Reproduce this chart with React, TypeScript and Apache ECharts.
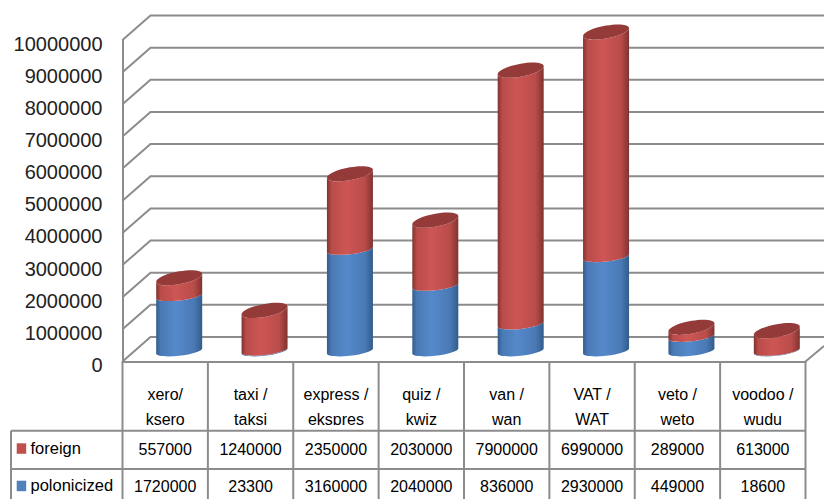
import React, { useEffect, useRef } from "react";
import * as echarts from "echarts";

const categories = ["xero/\nksero", "taxi /\ntaksi", "express /\nekspres", "quiz /\nkwiz", "van /\nwan", "VAT /\nWAT", "veto /\nweto", "voodoo /\nwudu"];
const foreign = [557000, 1240000, 2350000, 2030000, 7900000, 6990000, 289000, 613000];
const polonicized = [1720000, 23300, 3160000, 2040000, 836000, 2930000, 449000, 18600];
const ticks = [0, 1000000, 2000000, 3000000, 4000000, 5000000, 6000000, 7000000, 8000000, 9000000, 10000000];

const GRID_L = 122.5, GRID_R = 805.5, GRID_T = 40, GRID_B = 361.5;
const DEPTH_X = 28, DEPTH_Y = 24.5;
const ROW1 = 430.7, ROW2 = 469, W = 824, H = 499;
const LINE = "#8c8c8c";
const FONT = "'Liberation Sans', sans-serif";

const K = 0.5523;
const RX = 23;
const FLAT = { ry: 4.8, s: 2.5 };
const CAP = { ry: 6.5, s: 4 };
function mapper(cx: number, cy: number, ry: number, s: number) {
  return (u: number, v: number) => `${(cx + u * RX).toFixed(2)} ${(cy + v * ry - u * s).toFixed(2)}`;
}
function bodyPath(cx: number, y0: number, y1: number, top: { ry: number; s: number }) {
  const b = mapper(cx, y0, FLAT.ry, FLAT.s);
  const t = mapper(cx, y1, top.ry, top.s);
  return `M${t(-1, 0)} L${b(-1, 0)} C${b(-1, K)} ${b(-K, 1)} ${b(0, 1)} C${b(K, 1)} ${b(1, K)} ${b(1, 0)} L${t(1, 0)} C${t(1, K)} ${t(K, 1)} ${t(0, 1)} C${t(-K, 1)} ${t(-1, K)} ${t(-1, 0)} Z`;
}
function capPath(cx: number, y: number) {
  const t = mapper(cx, y, CAP.ry, CAP.s);
  return `M${t(-1, 0)} C${t(-1, K)} ${t(-K, 1)} ${t(0, 1)} C${t(K, 1)} ${t(1, K)} ${t(1, 0)} C${t(1, -K)} ${t(K, -1)} ${t(0, -1)} C${t(-K, -1)} ${t(-1, -K)} ${t(-1, 0)} Z`;
}
function shade(edge: string, mid: string, light: string) {
  return {
    type: "linear", x: 0, y: 0, x2: 1, y2: 0,
    colorStops: [
      { offset: 0, color: edge }, { offset: 0.1, color: mid }, { offset: 0.42, color: light },
      { offset: 0.82, color: mid }, { offset: 1, color: edge },
    ],
  };
}
const RED = shade("#803331", "#b94c49", "#cd5654");
const BLUE = shade("#325c8b", "#4a7ab5", "#5589ca");
const RED_TOP = "#943b39";

function cylinderSeries(name: string, base: number[], own: number[], fill: any, cap: boolean) {
  return {
    type: "custom",
    name,
    z: 5,
    clip: false,
    data: own.map((v, i) => [i, base[i], base[i] + v]),
    encode: { x: 0, y: 2 },
    renderItem: (_p: any, api: any) => {
      const i = api.value(0);
      const p0 = api.coord([i, api.value(1)]);
      const p1 = api.coord([i, api.value(2)]);
      const cx = p0[0] + 14;
      const lift = 10.5;
      const children: any[] = [
        { type: "path", shape: { pathData: bodyPath(cx, p0[1] - lift, p1[1] - lift, cap ? CAP : FLAT) }, style: { fill } },
      ];
      if (cap) {
        children.push({ type: "path", shape: { pathData: capPath(cx, p1[1] - lift) }, style: { fill: RED_TOP } });
      }
      return { type: "group", children };
    },
  };
}

const wallSeries = {
  type: "custom",
  name: "wall",
  z: 1,
  clip: false,
  silent: true,
  data: ticks.map((t) => [0, t]),
  encode: { x: 0, y: 1 },
  renderItem: (p: any, api: any) => {
    const y = api.coord([0, api.value(1)])[1];
    const x = p.coordSys.x;
    return {
      type: "polyline",
      shape: { points: [[x, y], [x + DEPTH_X, y - DEPTH_Y], [W, y - DEPTH_Y]] },
      style: { fill: "none", stroke: LINE, lineWidth: 2 },
    };
  },
};

function tableGraphics() {
  const col = (GRID_R - GRID_L) / categories.length;
  const line = (x1: number, y1: number, x2: number, y2: number) => ({
    type: "line", z: 20, shape: { x1, y1, x2, y2 }, style: { stroke: LINE, lineWidth: 2 },
  });
  const out: any[] = [
    { type: "rect", z: 15, shape: { x: GRID_L, y: 425, width: GRID_R - GRID_L, height: 6 }, style: { fill: "#fff" } },
    line(GRID_R, GRID_B, W, GRID_B - 15.5),
    line(11, ROW1, GRID_R, ROW1),
    line(11, ROW2, GRID_R, ROW2),
    line(11, ROW1, 11, H),
  ];
  for (let i = 0; i <= categories.length; i++) {
    const x = GRID_L + col * i;
    out.push(line(x, GRID_B, x, H));
  }
  const cell = { fontFamily: FONT, fontSize: 16, fill: "#000" };
  const rows: [string, number[], number, string, number][] = [
    ["foreign", foreign, 449.5, "#c0504d", 443.3],
    ["polonicized", polonicized, 486.5, "#4f81bd", 480.7],
  ];
  rows.forEach(([name, vals, y, color, sy]) => {
    out.push({ type: "rect", z: 21, shape: { x: 16.7, y: sy, width: 9.5, height: 10.5 }, style: { fill: color } });
    out.push({ type: "text", z: 21, x: 30.5, y: y - 2, style: { ...cell, fontSize: 16.5, text: name, align: "left", verticalAlign: "middle" } });
    vals.forEach((v, i) => {
      out.push({
        type: "text", z: 21, x: GRID_L + col * (i + 0.5), y,
        style: { ...cell, text: String(v), align: "center", verticalAlign: "middle" },
      });
    });
  });
  return out;
}

export default function App() {
  const ref = useRef<HTMLDivElement>(null);
  useEffect(() => {
    const chart = echarts.init(ref.current!, undefined, { renderer: "svg" });
    chart.setOption({
      animation: false,
      backgroundColor: "#ffffff",
      grid: { left: GRID_L, right: W - GRID_R, top: GRID_T, bottom: H - GRID_B },
      xAxis: {
        type: "category",
        data: categories,
        axisTick: { show: false },
        axisLine: { show: true, lineStyle: { color: LINE, width: 2 } },
        axisLabel: { interval: 0, margin: 20, fontFamily: FONT, fontSize: 16, lineHeight: 25, color: "#000", hideOverlap: false },
      },
      yAxis: {
        type: "value",
        min: 0,
        max: 10000000,
        interval: 1000000,
        splitLine: { show: false },
        axisTick: { show: false },
        axisLine: { show: true, lineStyle: { color: LINE, width: 2 } },
        axisLabel: { margin: 20, fontFamily: FONT, fontSize: 20, color: "#222", lineHeight: 7, verticalAlign: "top", formatter: (v: number) => String(v) },
      },
      series: [
        wallSeries,
        cylinderSeries("polonicized", polonicized.map(() => 0), polonicized, BLUE, false),
        cylinderSeries("foreign", polonicized, foreign, RED, true),
      ],
      graphic: tableGraphics(),
    });
    return () => chart.dispose();
  }, []);
  return <div ref={ref} style={{ position: "fixed", left: 0, top: 0, width: W, height: H, background: "#fff" }} />;
}
